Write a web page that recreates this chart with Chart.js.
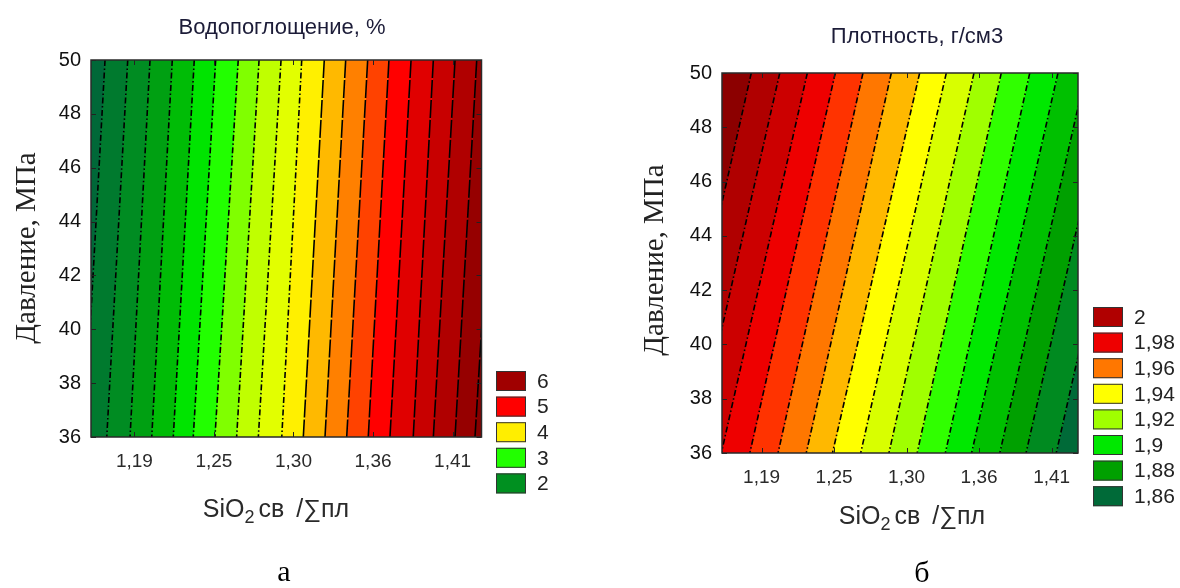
<!DOCTYPE html>
<html>
<head>
<meta charset="utf-8">
<script src="https://cdn.jsdelivr.net/npm/chart.js@4.4.0/dist/chart.umd.min.js"></script>
<style>
  html, body { margin: 0; padding: 0; background: #fff; }
  #wrap { position: relative; width: 1180px; height: 588px; overflow: hidden; }
  .panel { position: absolute; top: 0; width: 590px; height: 588px; }
</style>
</head>
<body>
<div id="wrap">
  <div class="panel" style="left:0"><canvas id="water" width="590" height="588"></canvas></div>
  <div class="panel" style="left:590px"><canvas id="density" width="590" height="588"></canvas></div>
</div>
<script>
'use strict';

// оси (общие для обоих графиков)
const X_MIN = 1.16, X_MAX = 1.43;
const xTickValues = [1.19, 1.245, 1.30, 1.355, 1.41];
const xTickLabels = ['1,19', '1,25', '1,30', '1,36', '1,41'];
const yMin = 36, yMax = 50;

// Водопоглощение: x изолиний на верхней (50 МПа) и нижней (36 МПа) границах
const waterLineTop    = [1.1697, 1.1854, 1.2008, 1.2162, 1.2314, 1.2462, 1.2618, 1.2762, 1.2914, 1.3057,
                         1.3213, 1.3361, 1.3513, 1.3660, 1.3813, 1.3967, 1.4117, 1.4267, 1.4414];
const waterLineBottom = [1.1552, 1.1709, 1.1870, 1.2020, 1.2169, 1.2307, 1.2457, 1.2607, 1.2757, 1.2919,
                         1.3068, 1.3218, 1.3368, 1.3517, 1.3667, 1.3828, 1.3967, 1.4117, 1.4255];
const waterBandColors = ['#006838', '#007a2e', '#008c22', '#00a012', '#00bc06', '#00e400', '#22ff00',
                         '#80ff00', '#c0ff00', '#e2ff00', '#fff000', '#ffb900', '#ff8000', '#ff4200',
                         '#ff0000', '#e00000', '#c80000', '#b00000', '#960000', '#860000'];
const waterLegendLabels = ['6', '5', '4', '3', '2'];
const waterLegendColors = ['#a00000', '#ff0000', '#ffee00', '#22ff00', '#009020'];

// Плотность
const densityLineTop    = [1.1822, 1.2038, 1.2247, 1.2459, 1.2669, 1.2884, 1.3099, 1.3301, 1.3511, 1.3718,
                           1.3934, 1.4148, 1.4359, 1.4558, 1.4785];
const densityLineBottom = [1.1170, 1.1385, 1.1595, 1.1811, 1.2025, 1.2239, 1.2438, 1.2652, 1.2866, 1.3080,
                           1.3294, 1.3493, 1.3707, 1.3906, 1.4135];
const densityBandColors = ['#8c0000', '#b00000', '#cc0000', '#ee0000', '#ff3300', '#ff7700', '#ffb800',
                           '#ffff00', '#d8ff00', '#a0ff00', '#30ff00', '#00e800', '#00c000', '#00a000',
                           '#008a20', '#006a38'];
const densityLegendLabels = ['2', '1,98', '1,96', '1,94', '1,92', '1,9', '1,88', '1,86'];
const densityLegendColors = ['#b00000', '#ee0000', '#ff7700', '#ffff00', '#a0ff00', '#00e800', '#00a000', '#006a38'];

const SANS = '"Liberation Sans", Arial, sans-serif';
const SERIF = '"Liberation Serif", "Times New Roman", serif';
const DASH_DOT = [6, 2.5, 1.5, 2.5];

// полосы между соседними изолиниями
function bandDatasets(top, bottom, colors) {
  const n = top.length;
  return colors.map((c, i) => {
    const lt = i === 0 ? X_MIN - 0.1 : top[i - 1];
    const lb = i === 0 ? X_MIN - 0.1 : bottom[i - 1];
    const rt = i === n ? X_MAX + 0.1 : top[i];
    const rb = i === n ? X_MAX + 0.1 : bottom[i];
    return {
      data: [{ x: lb, y: yMin }, { x: rb, y: yMin }, { x: rt, y: yMax }, { x: lt, y: yMax }],
      showLine: true, fill: 'shape', tension: 0,
      backgroundColor: c, borderColor: c, borderWidth: 1, pointRadius: 0,
    };
  });
}

// изолинии (в начале списка — рисуются поверх заливки)
function lineDatasets(top, bottom, dashFor) {
  return top.map((t, i) => ({
    data: [{ x: t, y: yMax }, { x: bottom[i], y: yMin }],
    showLine: true, fill: false, tension: 0,
    borderColor: '#000', borderWidth: 1.6, borderDash: dashFor(i), pointRadius: 0,
  }));
}

function drawXTitle(ctx, cx, cy) {
  const big = '25px ' + SANS, small = '18px ' + SANS;
  const parts = [['SiO', big, 0, 0], ['2', small, 8, 4], ['св', big, 0, 12], ['/∑пл', big, 0, 0]];
  let total = 0;
  parts.forEach(p => { ctx.font = p[1]; p.push(ctx.measureText(p[0]).width); total += p[4] + p[3]; });
  let x = cx - total / 2;
  ctx.textAlign = 'left';
  parts.forEach(p => { ctx.font = p[1]; ctx.fillText(p[0], x, cy + p[2]); x += p[4] + p[3]; });
}

function makeDecor(cfg) {
  return {
    id: 'decor',
    afterDatasetsDraw(chart) {
      const { ctx, chartArea: a, scales: { x, y } } = chart;
      ctx.save();
      ctx.strokeStyle = '#222';
      ctx.lineWidth = 1;
      ctx.beginPath();
      y.ticks.forEach(t => {
        const py = Math.round(y.getPixelForValue(t.value)) + 0.5;
        ctx.moveTo(a.left, py); ctx.lineTo(a.left + 5, py);
        ctx.moveTo(a.right, py); ctx.lineTo(a.right - 5, py);
      });
      x.ticks.forEach(t => {
        const px = Math.round(x.getPixelForValue(t.value)) + 0.5;
        ctx.moveTo(px, a.bottom); ctx.lineTo(px, a.bottom - 5);
        ctx.moveTo(px, a.top); ctx.lineTo(px, a.top + 5);
      });
      ctx.stroke();
      ctx.lineWidth = 1.5;
      ctx.strokeStyle = '#2a2a2a';
      ctx.strokeRect(a.left, a.top, a.right - a.left, a.bottom - a.top);
      ctx.restore();
    },
    afterDraw(chart) {
      const ctx = chart.ctx;
      ctx.save();
      ctx.textBaseline = 'middle';
      ctx.textAlign = 'center';
      ctx.fillStyle = '#1c1c38';
      ctx.font = '22px ' + SANS;
      ctx.fillText(cfg.title, cfg.titleX, cfg.titleY);

      ctx.save();
      ctx.translate(cfg.yTitleX, cfg.yTitleY);
      ctx.rotate(-Math.PI / 2);
      ctx.fillStyle = '#222';
      ctx.font = '29px ' + SERIF;
      ctx.fillText('Давление, МПа', 0, 0);
      ctx.restore();

      ctx.fillStyle = '#2a2a2a';
      drawXTitle(ctx, cfg.xTitleX, cfg.xTitleY);

      cfg.legendLabels.forEach((lab, i) => {
        const top = cfg.legendTop + i * 25.6;
        ctx.fillStyle = cfg.legendColors[i];
        ctx.fillRect(cfg.legendX, top, 30, 20);
        ctx.strokeStyle = '#333';
        ctx.lineWidth = 1;
        ctx.strokeRect(cfg.legendX + 0.5, top + 0.5, 29, 19);
        ctx.fillStyle = '#222';
        ctx.textAlign = 'left';
        ctx.font = '21px ' + SANS;
        ctx.fillText(lab, cfg.legendX + 41, top + 11);
      });

      ctx.textAlign = 'center';
      ctx.fillStyle = '#000';
      ctx.font = '30px ' + SERIF;
      ctx.fillText(cfg.caption, cfg.capX, cfg.capY);
      ctx.restore();
    },
  };
}

function makeChart(id, datasets, area, cfg) {
  return new Chart(document.getElementById(id), {
    type: 'scatter',
    data: { datasets },
    options: {
      responsive: false,
      animation: false,
      events: [],
      devicePixelRatio: 1,
      layout: { padding: { left: 0, top: area.top, right: 590 - area.right, bottom: 0 } },
      plugins: { legend: { display: false }, tooltip: { enabled: false }, title: { display: false } },
      scales: {
        x: {
          type: 'linear', min: X_MIN, max: X_MAX,
          afterBuildTicks: s => { s.ticks = xTickValues.map(v => ({ value: v })); },
          afterFit: s => { s.height = 588 - area.bottom; },
          grid: { display: false, drawTicks: false },
          border: { display: false },
          ticks: {
            autoSkip: false, maxRotation: 0, padding: 13, color: '#2a2a2a',
            font: { family: SANS, size: 19 },
            callback: (v, i) => xTickLabels[i],
          },
        },
        y: {
          type: 'linear', min: yMin, max: yMax,
          afterFit: s => { s.width = area.left; },
          grid: { display: false, drawTicks: false },
          border: { display: false },
          ticks: { stepSize: 2, padding: 10, color: '#111', font: { family: SANS, size: 20 } },
        },
      },
    },
    plugins: [makeDecor(cfg)],
  });
}

makeChart('water',
  [...lineDatasets(waterLineTop, waterLineBottom, i => (i < 10 ? DASH_DOT : [18, 2])),
   ...bandDatasets(waterLineTop, waterLineBottom, waterBandColors)],
  { left: 91, top: 60, right: 481.5, bottom: 437 },
  { title: 'Водопоглощение, %', titleX: 282, titleY: 28, yTitleX: 27, yTitleY: 248,
    xTitleX: 276, xTitleY: 510, legendX: 496, legendTop: 371,
    legendLabels: waterLegendLabels, legendColors: waterLegendColors,
    caption: 'а', capX: 284, capY: 573 });

makeChart('density',
  [...lineDatasets(densityLineTop, densityLineBottom, () => DASH_DOT),
   ...bandDatasets(densityLineTop, densityLineBottom, densityBandColors)],
  { left: 132, top: 73, right: 488, bottom: 453 },
  { title: 'Плотность, г/см3', titleX: 327, titleY: 37, yTitleX: 65, yTitleY: 260,
    xTitleX: 322, xTitleY: 517, legendX: 503, legendTop: 307,
    legendLabels: densityLegendLabels, legendColors: densityLegendColors,
    caption: 'б', capX: 332, capY: 574 });
</script>
</body>
</html>
